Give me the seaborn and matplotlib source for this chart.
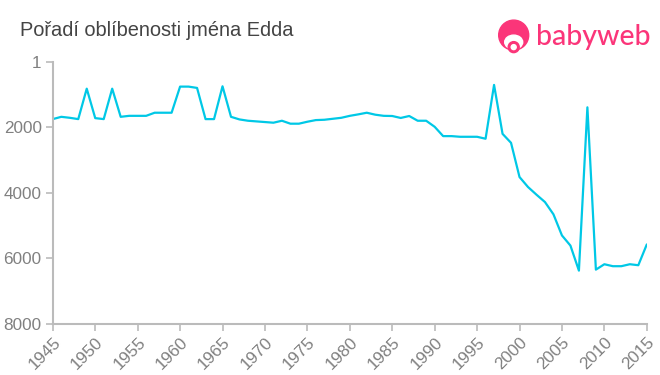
import pandas as pd
import matplotlib.pyplot as plt
import seaborn as sns
from matplotlib.patches import Circle, Ellipse

# Data
years = list(range(1945, 2016))
ranks = [
    1750, 1680, 1710, 1750, 820, 1720, 1750, 820, 1680, 1650,
    1650, 1650, 1555, 1555, 1555, 757, 757, 797, 1750, 1750,
    747, 1680, 1760, 1800, 1820, 1840, 1860, 1800, 1890, 1890,
    1830, 1780, 1770, 1740, 1710, 1650, 1605, 1555, 1615, 1650,
    1655, 1715, 1655, 1800, 1800, 1985, 2270, 2270, 2290, 2290,
    2290, 2350, 705, 2200, 2475, 3520, 3825, 4060, 4285, 4660,
    5305, 5615, 6380, 1390, 6350, 6185, 6245, 6245, 6185, 6215,
    5580,
]
y_ticks = [1, 2000, 4000, 6000, 8000]
x_ticks = list(range(1945, 2016, 5))

LINE = '#00c8e6'
AXIS = '#bbbbbb'
TICK_TXT = '#808080'
PINK = '#fb3579'

df = pd.DataFrame({'year': years, 'rank': ranks})

sns.set_style('white')
plt.rcParams['font.family'] = ['Liberation Sans', 'DejaVu Sans']

fig = plt.figure(figsize=(6.6, 3.75), dpi=100)
ax = fig.add_axes([0.080, 0.137, 0.900, 0.698])
sns.lineplot(data=df, x='year', y='rank', color=LINE, linewidth=1.6, ax=ax)

ax.set_xlim(1945, 2015)
ax.set_ylim(8000, 1)
ax.set_xticks(x_ticks)
ax.set_yticks(y_ticks)
ax.set_xlabel('')
ax.set_ylabel('')
for s in ['top', 'right']:
    ax.spines[s].set_visible(False)
for s in ['left', 'bottom']:
    ax.spines[s].set_color(AXIS)
    ax.spines[s].set_linewidth(1.5)
ax.tick_params(axis='both', colors=AXIS, labelcolor=TICK_TXT, labelsize=12.3,
               length=5, width=1.2, direction='out', left=True, bottom=True,
               pad=3)
plt.setp(ax.get_xticklabels(), rotation=45, ha='right', rotation_mode='anchor')

fig.text(0.030, 0.918, 'Pořadí oblíbenosti jména Edda', fontsize=14.4,
         color='#444444', va='center')

# simplified babyweb logo
lax = fig.add_axes([0.745, 0.845, 0.25, 0.13])
lax.set_xlim(0, 165)
lax.set_ylim(0, 48.75)
lax.set_aspect('equal')
lax.axis('off')
lax.add_patch(Circle((22, 23), 15, color=PINK))
lax.add_patch(Ellipse((22, 16), 18, 14, color='white'))
lax.add_patch(Circle((22, 11), 5.5, color=PINK))
lax.add_patch(Circle((22, 11), 2.5, color='white'))
lax.text(44, 21, 'babyweb', fontsize=20.5, color=PINK, va='center',
         ha='left', family=['Lato', 'DejaVu Sans'], fontweight='medium')

fig.savefig('out.png', dpi=100)
